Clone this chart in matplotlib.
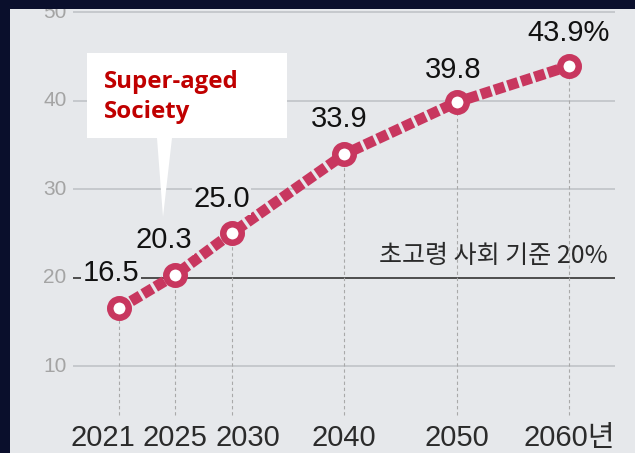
import matplotlib
matplotlib.use("Agg")
import matplotlib.pyplot as plt
from matplotlib.patches import Rectangle, Polygon
from matplotlib import font_manager

# ---- data ----
years = ["2021", "2025", "2030", "2040", "2050", "2060년"]
values = [16.5, 20.3, 25.0, 33.9, 39.8, 43.9]
value_labels = ["16.5", "20.3", "25.0", "33.9", "39.8", "43.9%"]
ytick_values = [10, 20, 30, 40, 50]
threshold = 20
threshold_label = "초고령 사회 기준 20%"
callout_lines = ["Super-aged", "Society"]

# ---- layout (slot positions on the category axis) ----
x_slots = [0, 1, 2, 4, 6, 8]
year_dx_px = [-16.5, 0, 16, 0, 0, 0]
label_off_px = [(-8, 27), (-11, 27), (-10, 26), (-5, 27.5), (-3, 24), (0, 25)]

RED = "#c8375f"
PANEL = "#e6e8eb"
PX2PT = 72 / 100

names = {f.name for f in font_manager.fontManager.ttflist}
if "Liberation Sans Narrow" in names:
    NARROW, YEAR_FS, TICK_FS = "Liberation Sans Narrow", 24, 17
else:
    NARROW, YEAR_FS, TICK_FS = "Liberation Sans", 21, 15

fig = plt.figure(figsize=(6.35, 4.53), dpi=100, facecolor="#0a0f2c")
ax = fig.add_axes([10 / 635, 0, 625 / 635, 444 / 453])
ax.set_facecolor(PANEL)
for s in ax.spines.values():
    s.set_visible(False)
ax.set_xticks([])
ax.set_yticks([])
ax.set_xlim(-1.938, 9.173)
ax.set_ylim(0.17, 50.34)

gx0, gx1 = -0.818, 8.818
grid_vals = [v for v in ytick_values if v != threshold]
ax.hlines(grid_vals, gx0, gx1, color="#c3c6ca", lw=1.3, zorder=1)
ax.hlines([threshold], gx0, gx1, color="#4d4d4d", lw=1.4, zorder=1)

for v in ytick_values:
    ax.text(-0.93, v, str(v), ha="right", va="center", fontsize=TICK_FS,
            family=[NARROW, "DejaVu Sans"],
            color="#a4a4a4", clip_on=True, zorder=2)

# vertical dashed guide lines
ax.vlines(x_slots, 4.46, values, colors="#a9a9a9", lw=0.8,
          linestyles=(0, (3, 2.5)), zorder=1)

# callout box and pointer
ax.add_patch(Rectangle((0.1232, 0.7095), 0.32, 0.1914, transform=ax.transAxes,
                       facecolor="white", edgecolor="none", zorder=3))
ax.add_patch(Polygon([(0.2352, 0.7095), (0.2592, 0.7095), (0.2448, 0.5315)],
                     closed=True, transform=ax.transAxes,
                     facecolor="white", edgecolor="none", zorder=3))
for line, yy in zip(callout_lines, [0.822, 0.7545]):
    ax.text(0.1504, yy, line, transform=ax.transAxes, ha="left", va="baseline",
            fontsize=17.3, fontweight="bold", family=["Open Sans", "DejaVu Sans"],
            color="#c00000", zorder=4)

# threshold label
ax.text(8.693, 21.69, threshold_label, ha="right", va="baseline", fontsize=18,
        family=["Noto Sans CJK KR", "DejaVu Sans"], color="#2a2a2a", zorder=2)

# series line and markers
ax.plot(x_slots, values, color=RED, lw=7.8, linestyle=(0, (1.0, 0.3)),
        dash_capstyle="butt", zorder=5)
ax.plot(x_slots, values, "o", ms=13.3, mfc="white", mec=RED, mew=4.7, zorder=6)

# value labels
for x, v, lab, (dx, dy) in zip(x_slots, values, value_labels, label_off_px):
    ax.annotate(lab, (x, v), xytext=(dx * PX2PT, dy * PX2PT),
                textcoords="offset points", ha="center", va="baseline",
                fontsize=21, family=["Liberation Sans", "DejaVu Sans"],
                color="#111111", zorder=7,
                bbox=dict(boxstyle="square,pad=0.05", fc=PANEL, ec="none"))

# year labels
for x, yl, dx in zip(x_slots, years, year_dx_px):
    ax.annotate(yl, (x, 0.96), xytext=(dx * PX2PT, 0), textcoords="offset points",
                ha="center", va="baseline", fontsize=YEAR_FS,
                family=[NARROW, "Noto Sans CJK KR"],
                color="#2b2b2b", zorder=2)

fig.savefig("out.png", dpi=100, facecolor=fig.get_facecolor())
